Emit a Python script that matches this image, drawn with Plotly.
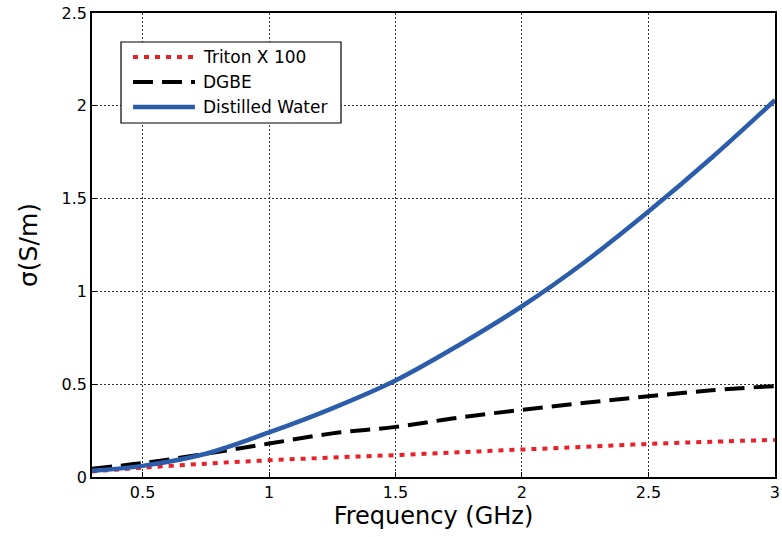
import plotly.graph_objects as go

freq = [0.3, 0.5, 0.75, 1.0, 1.25, 1.5, 1.75, 2.0, 2.25, 2.5, 2.75, 3.0]
triton = [0.03, 0.05, 0.072, 0.09, 0.105, 0.118, 0.133, 0.148, 0.163, 0.178, 0.19, 0.20]
dgbe = [0.045, 0.075, 0.125, 0.18, 0.235, 0.27, 0.32, 0.362, 0.40, 0.435, 0.467, 0.49]
water = [0.034, 0.06, 0.125, 0.24, 0.37, 0.52, 0.71, 0.92, 1.16, 1.43, 1.72, 2.03]

series_names = ["Triton X 100", "DGBE", "Distilled Water"]
series_values = [triton, dgbe, water]

x_ticks = [0.5, 1, 1.5, 2, 2.5, 3]
y_ticks = [0, 0.5, 1, 1.5, 2, 2.5]

FONT = "DejaVu Sans, Arial"
styles = [
    dict(color="#E8202A", width=4, dash="5px,6px"),
    dict(color="black", width=4, dash="20px,9px"),
    dict(color="#2B5DAB", width=4.5, dash="solid"),
]

fig = go.Figure()
for name, vals, st in zip(series_names, series_values, styles):
    fig.add_trace(go.Scatter(x=freq, y=vals, mode="lines", name=name, showlegend=False,
                             line=dict(shape="spline", **st)))

axis_common = dict(showline=True, linecolor="black", linewidth=1.5, mirror=True,
                   ticks="inside", ticklen=5, tickcolor="black",
                   showgrid=True, gridcolor="#333333", gridwidth=1, griddash="2px,2px",
                   zeroline=False, ticklabeloverflow="allow", automargin=False,
                   tickfont=dict(family=FONT, size=16, color="black"))

fig.update_xaxes(range=[0.3, 3.0005], tickvals=x_ticks, ticktext=[("%g" % v) for v in x_ticks],
                 title=dict(text="Frequency (GHz)", standoff=5,
                            font=dict(family=FONT, size=24, color="black")),
                 **axis_common)
fig.update_yaxes(range=[0, 2.5], tickvals=y_ticks, ticktext=[("%g" % v) for v in y_ticks],
                 title=dict(text="σ(S/m)", standoff=17,
                            font=dict(family=FONT, size=25, color="black")),
                 **axis_common)

# manual legend (pixel layout converted to paper coords)
L, R, T, B = 92, 775, 13, 477
def px(xp):
    return (xp - L) / (R - L)
def py(yp):
    return (B - yp) / (B - T)

shapes = [dict(type="rect", xref="paper", yref="paper",
               x0=px(121), x1=px(341), y0=py(123), y1=py(42),
               line=dict(color="black", width=1.2), fillcolor="white", layer="above")]
annotations = []
for i, (name, st) in enumerate(zip(series_names, styles)):
    yy = 57 + 25 * i
    shapes.append(dict(type="line", xref="paper", yref="paper",
                       x0=px(133), x1=px(195), y0=py(yy), y1=py(yy), layer="above",
                       line=dict(color=st["color"], width=st["width"], dash=st["dash"])))
    annotations.append(dict(xref="paper", yref="paper", x=px(201), y=py(yy),
                            xanchor="left", yanchor="middle", showarrow=False,
                            text=name, font=dict(family=FONT, size=17, color="black")))

fig.update_layout(
    width=782, height=537,
    margin=dict(l=L, r=782 - R, t=T, b=537 - B),
    plot_bgcolor="white", paper_bgcolor="white",
    shapes=shapes, annotations=annotations,
)

fig.write_html("out.html")
